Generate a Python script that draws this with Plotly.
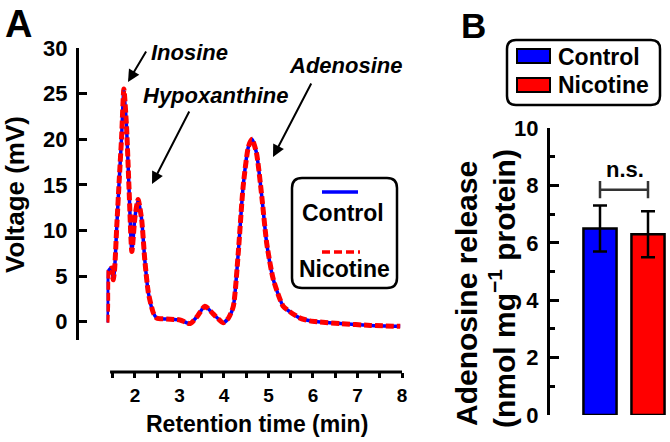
import plotly.graph_objects as go

# ---------------- data ----------------
# Panel A chromatogram (retention time in min, voltage in mV)
time_min = [1.37, 1.385, 1.40, 1.44, 1.48, 1.51, 1.54, 1.59, 1.65, 1.70, 1.75, 1.81, 1.865,
            1.93, 2.00, 2.07, 2.15, 2.22, 2.30, 2.41, 2.49, 2.71, 3.01, 3.24, 3.40, 3.57,
            3.75, 3.98, 4.10, 4.21, 4.32, 4.43, 4.55, 4.63, 4.73, 4.85, 4.96, 5.11, 5.33,
            5.48, 5.71, 5.93, 6.10, 6.61, 7.30, 7.96]
control_mv = [-0.1, 1.7, 5.5, 5.8, 5.9, 4.6, 5.6, 10.4, 15.9, 20.3, 25.5, 21.4, 14.8,
              7.7, 11.5, 13.4, 11.2, 6.8, 3.2, 1.0, 0.4, 0.3, 0.2, -0.2, 0.6, 1.7,
              0.9, -0.1, 0.4, 1.7, 7.5, 14.8, 19.2, 20.0, 18.5, 13.7, 8.6, 4.6, 1.7,
              1.1, 0.4, 0.1, 0.0, -0.2, -0.4, -0.5]
nicotine_mv = [-0.1, 1.7, 5.5, 5.8, 5.9, 4.6, 5.6, 10.4, 15.9, 20.3, 25.5, 21.4, 14.8,
               7.7, 11.5, 13.4, 11.2, 6.8, 3.2, 1.0, 0.4, 0.3, 0.2, -0.2, 0.6, 1.7,
               0.9, -0.1, 0.4, 1.7, 7.5, 14.8, 19.2, 20.0, 18.5, 13.7, 8.6, 4.6, 1.7,
               1.1, 0.4, 0.1, 0.0, -0.2, -0.4, -0.5]
x_tick_vals = [1.5, 2, 2.5, 3, 3.5, 4, 4.5, 5, 5.5, 6, 6.5, 7, 7.5, 8]
x_tick_text = ["", "2", "", "3", "", "4", "", "5", "", "6", "", "7", "", "8"]
y_tick_vals = [0, 5, 10, 15, 20, 25, 30]

# Panel B bars
groups = ["Control", "Nicotine"]
release_mean = [6.5, 6.3]
release_err = [0.8, 0.8]

BLUE = "#0000ff"
RED = "#ff0000"
FONT = "Liberation Sans, Arial, sans-serif"
W, H = 670, 442


def X(px):
    return px / W


def Y(py):
    return 1 - py / H


def rrect(x0, y0, x1, y1, r):
    path = (f"M {X(x0+r)},{Y(y0)} L {X(x1-r)},{Y(y0)} Q {X(x1)},{Y(y0)} {X(x1)},{Y(y0+r)} "
            f"L {X(x1)},{Y(y1-r)} Q {X(x1)},{Y(y1)} {X(x1-r)},{Y(y1)} "
            f"L {X(x0+r)},{Y(y1)} Q {X(x0)},{Y(y1)} {X(x0)},{Y(y1-r)} "
            f"L {X(x0)},{Y(y0+r)} Q {X(x0)},{Y(y0)} {X(x0+r)},{Y(y0)} Z")
    return dict(type="path", path=path, xref="paper", yref="paper",
                line=dict(color="black", width=2.5), fillcolor="rgba(0,0,0,0)")


fig = go.Figure()

fig.add_trace(go.Scatter(x=time_min, y=control_mv, mode="lines", name="Control",
                         line=dict(color=BLUE, width=3.5, shape="spline", smoothing=0.6),
                         xaxis="x", yaxis="y", showlegend=False))
fig.add_trace(go.Scatter(x=time_min, y=nicotine_mv, mode="lines", name="Nicotine",
                         line=dict(color=RED, width=5, dash="8px,3px", shape="spline", smoothing=0.6),
                         xaxis="x", yaxis="y", showlegend=False))

fig.add_trace(go.Bar(x=[0, 1], y=release_mean, width=0.69,
                     marker=dict(color=[BLUE, RED], line=dict(color="black", width=2.5)),
                     error_y=dict(type="data", array=release_err, color="black",
                                  thickness=2.5, width=7),
                     xaxis="x2", yaxis="y2", showlegend=False, hoverinfo="skip"))

tickfont_a = dict(family=FONT, size=22, color="black", weight="bold")
tickfont_ax = dict(family=FONT, size=19, color="black", weight="bold")
tickfont_b = dict(family=FONT, size=22, color="black", weight="bold")

fig.update_layout(
    template="none",
    width=W, height=H, autosize=False,
    margin=dict(l=0, r=0, t=0, b=0, pad=0),
    paper_bgcolor="white", plot_bgcolor="white",
    xaxis=dict(domain=[X(106.5), X(402)], range=[1.36, 8.0], anchor="free", position=Y(372),
               automargin=False,
               showline=False, showgrid=False, zeroline=False,
               tickmode="array", tickvals=x_tick_vals, ticktext=x_tick_text,
               ticks="outside", ticklen=5, tickwidth=3, tickcolor="black",
               tickfont=tickfont_ax, ticklabelstandoff=1),
    yaxis=dict(domain=[Y(340), Y(48)], range=[-2, 30], anchor="free", position=X(77),
               automargin=False,
               showline=True, linewidth=3, linecolor="black", showgrid=False, zeroline=False,
               tickmode="array", tickvals=y_tick_vals,
               ticks="inside", ticklen=8, tickwidth=3, tickcolor="black",
               tickfont=tickfont_a, ticklabelstandoff=4),
    xaxis2=dict(domain=[X(576), X(669.6)], range=[-0.5, 1.45], visible=False, anchor="y2",
                automargin=False),
    yaxis2=dict(domain=[Y(415), Y(128)], range=[0, 10], anchor="free", position=X(548),
                automargin=False,
                showline=True, linewidth=3, linecolor="black", showgrid=False, zeroline=False,
                tick0=0, dtick=2, ticks="inside", ticklen=9, tickwidth=3, tickcolor="black",
                minor=dict(dtick=1, ticks="inside", ticklen=5, tickwidth=3, tickcolor="black",
                           showgrid=False),
                tickfont=tickfont_b, ticklabelstandoff=4),
)

shapes = []
# detached x-axis line of panel A
shapes.append(dict(type="line", xref="x", yref="paper", x0=1.44, x1=8.0, y0=Y(372), y1=Y(372),
                   line=dict(color="black", width=3)))
# legend A
shapes.append(rrect(292, 178, 397, 288, 10))
shapes.append(dict(type="line", xref="paper", yref="paper", x0=X(322), x1=X(358), y0=Y(192), y1=Y(192),
                   line=dict(color=BLUE, width=3.5)))
shapes.append(dict(type="line", xref="paper", yref="paper", x0=X(322), x1=X(360), y0=Y(252), y1=Y(252),
                   line=dict(color=RED, width=3.5, dash="8px,4px")))
# legend B
shapes.append(rrect(507, 40, 660, 105, 9))
shapes.append(dict(type="rect", xref="paper", yref="paper", x0=X(517), x1=X(550), y0=Y(49), y1=Y(63),
                   fillcolor=BLUE, line=dict(color="black", width=2)))
shapes.append(dict(type="rect", xref="paper", yref="paper", x0=X(517), x1=X(550), y0=Y(78), y1=Y(92),
                   fillcolor=RED, line=dict(color="black", width=2)))
# n.s. bracket
shapes.append(dict(type="line", xref="x2", yref="y2", x0=0, x1=1, y0=7.85, y1=7.85,
                   line=dict(color="#333333", width=2.5)))
for xx in [0, 1]:
    shapes.append(dict(type="line", xref="x2", yref="y2", x0=xx, x1=xx, y0=7.55, y1=8.15,
                       line=dict(color="#333333", width=2.5)))
fig.update_layout(shapes=shapes)

ann = []


def txt(text, px, py, size, italic=False, angle=0, xanchor="center"):
    f = dict(family=FONT, size=size, color="black", weight="bold")
    if italic:
        f["style"] = "italic"
    ann.append(dict(text=text, x=X(px), y=Y(py), xref="paper", yref="paper", showarrow=False,
                    xanchor=xanchor, yanchor="middle", textangle=angle, font=f))


def arrow(hx, hy, tx, ty):
    ann.append(dict(text="", x=X(hx), y=Y(hy), xref="paper", yref="paper", showarrow=True,
                    ax=tx - hx, ay=ty - hy, axref="pixel", ayref="pixel",
                    arrowhead=2, arrowsize=1.2, arrowwidth=2, arrowcolor="black", standoff=0))


txt("A", 18, 24, 38)
txt("B", 473, 25, 35)
txt("Inosine", 189, 52, 22, italic=True)
txt("Hypoxanthine", 215, 95, 22, italic=True)
txt("Adenosine", 345, 65, 22, italic=True)
arrow(128, 82, 147, 50)
arrow(152, 184, 190, 110)
arrow(273, 157, 312, 82)
txt("Voltage (mV)", 15, 195, 26, angle=-90)
txt("Retention time (min)", 257, 424, 23)
txt("Control", 343, 213, 23)
txt("Nicotine", 344, 269, 23)
txt("Control", 556, 57, 23, xanchor="left")
txt("Nicotine", 556, 85, 23, xanchor="left")
txt("n.s.", 625, 170, 22)
txt("Adenosine release", 466, 294, 30, angle=-90)
txt("(nmol mg<sup>\u22121</sup> protein)", 502, 289, 30, angle=-90)
fig.update_layout(annotations=ann)

fig.write_html(
    "out.html",
    config={"displayModeBar": False},
    post_script="document.body.style.margin='0px';document.body.style.overflow='hidden';",
)
